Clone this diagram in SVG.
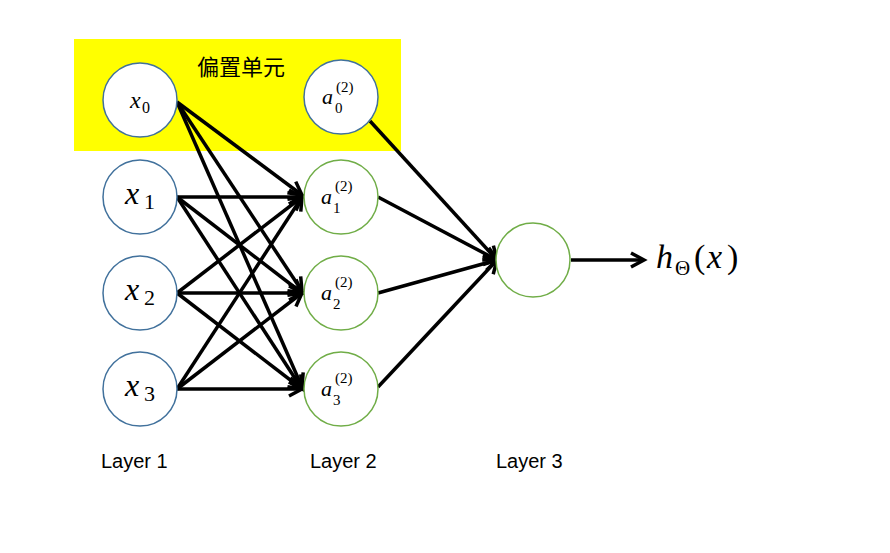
<svg xmlns="http://www.w3.org/2000/svg" width="890" height="553" viewBox="0 0 890 553">
<style>
.in{fill:#fff;stroke:#41719C;stroke-width:1.5}
.hid{fill:#fff;stroke:#70AD47;stroke-width:1.5}
.m{font-family:"Liberation Serif","DejaVu Serif",serif;font-style:italic;fill:#000}
.n{font-family:"Liberation Serif","DejaVu Serif",serif;font-style:normal;fill:#000}
.lbl{font-family:"Liberation Sans",sans-serif;font-size:20px;fill:#000}
.e{stroke:#000;stroke-width:3.5;fill:none;marker-end:url(#ah)}
</style>
<defs>
<marker id="ah" markerUnits="userSpaceOnUse" markerWidth="20" markerHeight="20" viewBox="0 0 20 20" refX="16" refY="10" orient="auto">
<path d="M3,3 L16,10 L3,17" fill="none" stroke="#000" stroke-width="3.5" stroke-linejoin="miter"/>
</marker>
</defs>
<rect x="74" y="39" width="327" height="112" fill="#FFFF00"/>
<text x="241" y="75" text-anchor="middle" font-family="'Noto Sans CJK SC',sans-serif" font-size="22" fill="#000">偏置单元</text>
<g id="connectors">
<line class="e" x1="177" y1="102" x2="302" y2="195"/>
<line class="e" x1="177" y1="102" x2="302" y2="291"/>
<line class="e" x1="177" y1="102" x2="302" y2="387"/>
<line class="e" x1="177" y1="197" x2="302" y2="197"/>
<line class="e" x1="177" y1="197" x2="302" y2="293"/>
<line class="e" x1="177" y1="197" x2="302" y2="389"/>
<line class="e" x1="177" y1="293" x2="302" y2="197"/>
<line class="e" x1="177" y1="293" x2="302" y2="293"/>
<line class="e" x1="177" y1="293" x2="302" y2="389"/>
<line class="e" x1="177" y1="389" x2="302" y2="197"/>
<line class="e" x1="177" y1="389" x2="302" y2="293"/>
<line class="e" x1="177" y1="389" x2="302" y2="389"/>
<line class="e" x1="370" y1="121" x2="497" y2="260"/>
<line class="e" x1="378" y1="197" x2="497" y2="260"/>
<line class="e" x1="378" y1="293" x2="497" y2="260"/>
<line class="e" x1="378" y1="387" x2="497" y2="260"/>
<line class="e" x1="571" y1="260" x2="644" y2="260"/>
</g>
<g id="x0"><circle class="in" cx="140" cy="100" r="37"/><text class="m" x="130" y="108" font-size="24">x</text><text class="n" x="142" y="113" font-size="16">0</text></g>
<g id="x1"><circle class="in" cx="140" cy="197" r="37"/><text class="m" x="125" y="204" font-size="32">x</text><text class="n" x="144" y="209" font-size="22">1</text></g>
<g id="x2"><circle class="in" cx="140" cy="293" r="37"/><text class="m" x="125" y="300" font-size="32">x</text><text class="n" x="144" y="305" font-size="22">2</text></g>
<g id="x3"><circle class="in" cx="140" cy="389" r="37"/><text class="m" x="125" y="396" font-size="32">x</text><text class="n" x="144" y="401" font-size="22">3</text></g>
<g id="a0"><circle class="in" cx="341" cy="97" r="37"/><text class="m" x="322" y="104" font-size="22">a</text><text class="n" x="336" y="92" font-size="15">(2)</text><text class="n" x="335" y="113" font-size="15">0</text></g>
<g id="a1"><circle class="hid" cx="341" cy="197" r="37"/><text class="m" x="321" y="204" font-size="22">a</text><text class="n" x="335" y="191" font-size="15">(2)</text><text class="n" x="333" y="213" font-size="15">1</text></g>
<g id="a2"><circle class="hid" cx="341" cy="293" r="37"/><text class="m" x="321" y="300" font-size="22">a</text><text class="n" x="335" y="287" font-size="15">(2)</text><text class="n" x="333" y="309" font-size="15">2</text></g>
<g id="a3"><circle class="hid" cx="341" cy="389" r="37"/><text class="m" x="321" y="396" font-size="22">a</text><text class="n" x="335" y="383" font-size="15">(2)</text><text class="n" x="333" y="405" font-size="15">3</text></g>
<g id="out"><circle class="hid" cx="533" cy="260" r="37"/></g>
<g id="h"><text class="m" x="656" y="268" font-size="34">h</text><text class="n" x="675" y="275" font-size="21">Θ</text><text class="n" x="694" y="268" font-size="34">(</text><text class="m" x="707" y="268" font-size="34">x</text><text class="n" x="727" y="268" font-size="34">)</text></g>
<text class="lbl" x="101" y="468">Layer 1</text>
<text class="lbl" x="310" y="468">Layer 2</text>
<text class="lbl" x="496" y="468">Layer 3</text>
</svg>
